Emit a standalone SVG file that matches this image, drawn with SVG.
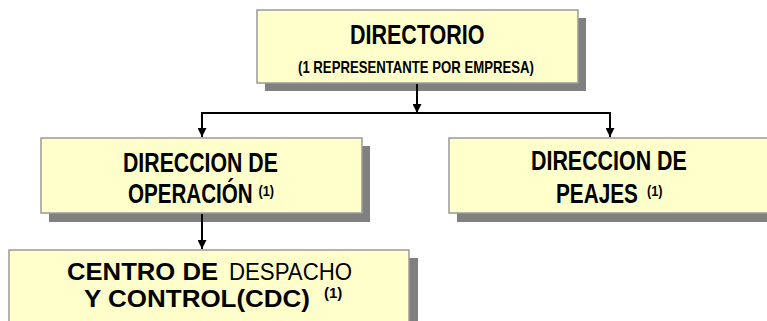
<svg xmlns="http://www.w3.org/2000/svg" width="767" height="321" viewBox="0 0 767 321">
<style>
.shadow{fill:#808080}
.box{fill:#FFFFCC;stroke:#9A9A9A;stroke-width:1.5}
.n{font-family:"Liberation Sans",Arial,sans-serif;font-weight:bold;font-size:28px;fill:#000}
.s{font-family:"Liberation Sans",Arial,sans-serif;font-weight:bold;font-size:15px;fill:#000}
.w{font-family:"Liberation Sans",Arial,sans-serif;font-size:24px;fill:#000}
.line{stroke:#000;stroke-width:2;fill:none}
</style>
<defs>
<marker id="arr" viewBox="0 0 10 10" refX="10" refY="5" markerWidth="4.5" markerHeight="4.5" orient="auto" markerUnits="strokeWidth">
<path d="M0,0 L10,5 L0,10 Z" fill="#000"/>
</marker>
</defs>
<rect width="767" height="321" fill="#fff"/>
<g id="directorio">
<rect class="shadow" x="265" y="18" width="321" height="73"/>
<rect class="box" x="257" y="10" width="321" height="73"/>
<text class="n" transform="translate(350,44) scale(0.768,1)">DIRECTORIO</text>
<text class="n" style="font-size:16px" transform="translate(298,73) scale(0.823,1)">(1 REPRESENTANTE POR EMPRESA)</text>
</g>
<g id="direccion-operacion">
<rect class="shadow" x="49" y="146" width="321" height="76"/>
<rect class="box" x="41" y="138" width="321" height="75"/>
<text class="n" transform="translate(123,172) scale(0.76,1)">DIRECCION DE</text>
<text class="n" transform="translate(128,203) scale(0.735,1)">OPERACIÓN</text>
<text class="s" transform="translate(258.5,196) scale(0.85,1)">(1)</text>
</g>
<g id="direccion-peajes">
<rect class="shadow" x="457" y="146" width="322" height="76"/>
<rect class="box" x="449" y="138" width="322" height="75"/>
<text class="n" transform="translate(531,170) scale(0.765,1)">DIRECCION DE</text>
<text class="n" transform="translate(556,203) scale(0.742,1)">PEAJES</text>
<text class="s" transform="translate(647,196) scale(0.85,1)">(1)</text>
</g>
<g id="cdc">
<rect class="shadow" x="18" y="258" width="400" height="80"/>
<rect class="box" x="9" y="250" width="400" height="80"/>
<text class="w" font-weight="bold" x="67" y="280" textLength="151" lengthAdjust="spacingAndGlyphs">CENTRO DE</text>
<text class="w" x="229" y="280" textLength="123" lengthAdjust="spacingAndGlyphs">DESPACHO</text>
<text class="w" font-weight="bold" x="84" y="307" textLength="226" lengthAdjust="spacingAndGlyphs">Y CONTROL(CDC)</text>
<text class="s" x="324" y="298">(1)</text>
</g>
<g id="connectors">
<path class="line" d="M417,84 V113" marker-end="url(#arr)"/>
<path class="line" d="M201,113 H611"/>
<path class="line" d="M202,113 V137" marker-end="url(#arr)"/>
<path class="line" d="M610,113 V137" marker-end="url(#arr)"/>
<path class="line" d="M202,214 V249" marker-end="url(#arr)"/>
</g>
</svg>
